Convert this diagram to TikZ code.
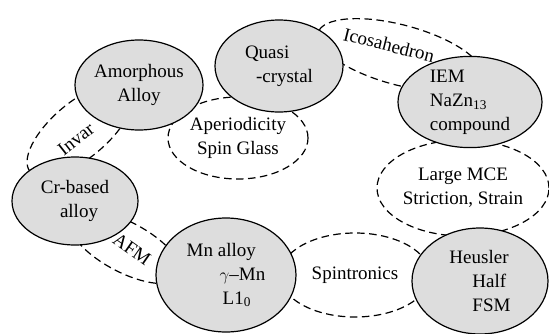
\documentclass[tikz,border=0pt]{standalone}
\usepackage{fontspec}
\IfFontExistsTF{LiberationSerif-Regular.ttf}
  {\setmainfont{LiberationSerif-Regular.ttf}}
  {\setmainfont{Liberation Serif}}
\usepackage{tikz}
\usetikzlibrary{shapes.geometric}
\definecolor{cellgray}{HTML}{DDDDDD}

\begin{document}
\begin{tikzpicture}[
  x=1pt, y=-1pt,
  every node/.style={font=\fontsize{19}{24}\selectfont},
  cell/.style={ellipse, draw, fill=cellgray, line width=1.2pt, inner sep=0pt, align=center},
  link/.style={ellipse, draw, dash pattern=on 7.5pt off 4.5pt, line width=1.2pt, inner sep=0pt, align=center},
]
  \useasboundingbox (0,0) rectangle (549,333);

  % dashed links first, the cells cover them
  \node[link, minimum width=130pt, minimum height=56pt, rotate=40] (invarring) at (80,130) {};
  \node[link, minimum width=124pt, minimum height=50pt, rotate=-28] (afmring) at (125,247) {};
  \node[link, minimum width=170pt, minimum height=60pt, rotate=-15] (icosring) at (400,55) {};
  \node[link, minimum width=140pt, minimum height=82pt] (aperiodic) at (238,138) {Aperiodicity\\Spin Glass};
  \node[link, minimum width=172pt, minimum height=96pt] (mce) at (463,188) {Large MCE\\Striction, Strain};
  \node[link, minimum width=150pt, minimum height=84pt] (spin) at (355,275) {Spintronics};

  \node[rotate=38] (invar) at (76,139) {Invar};
  \node[rotate=-35] (afm) at (132,249) {AFM};
  \node[rotate=-14] (icos) at (389,45) {Icosahedron};

  % material cells
  \node[cell, minimum width=128pt, minimum height=90pt] (amorph) at (139,85) {Amorphous\\Alloy};
  \node[cell, minimum width=128pt, minimum height=92pt, align=left] (quasi) at (279,66) {Quasi\\\hspace{11pt}-crystal};
  \node[cell, minimum width=144pt, minimum height=90pt, align=left] (iem) at (470,102) {IEM\\NaZn\textsubscript{13}\\compound};
  \node[cell, minimum width=126pt, minimum height=88pt] (crbased) at (75,201) {Cr-based\\\hspace{8pt}alloy};
  \node[cell, minimum width=140pt, minimum height=114pt, align=left] (mnalloy) at (226,275) {Mn alloy\\\hspace{33pt}$\gamma$--Mn\\\hspace{36pt}L1\textsubscript{0}};
  \node[cell, minimum width=136pt, minimum height=106pt, align=left] (heusler) at (480,281) {Heusler\\\hspace{23pt}Half\\\hspace{23pt}FSM};
\end{tikzpicture}
\end{document}
